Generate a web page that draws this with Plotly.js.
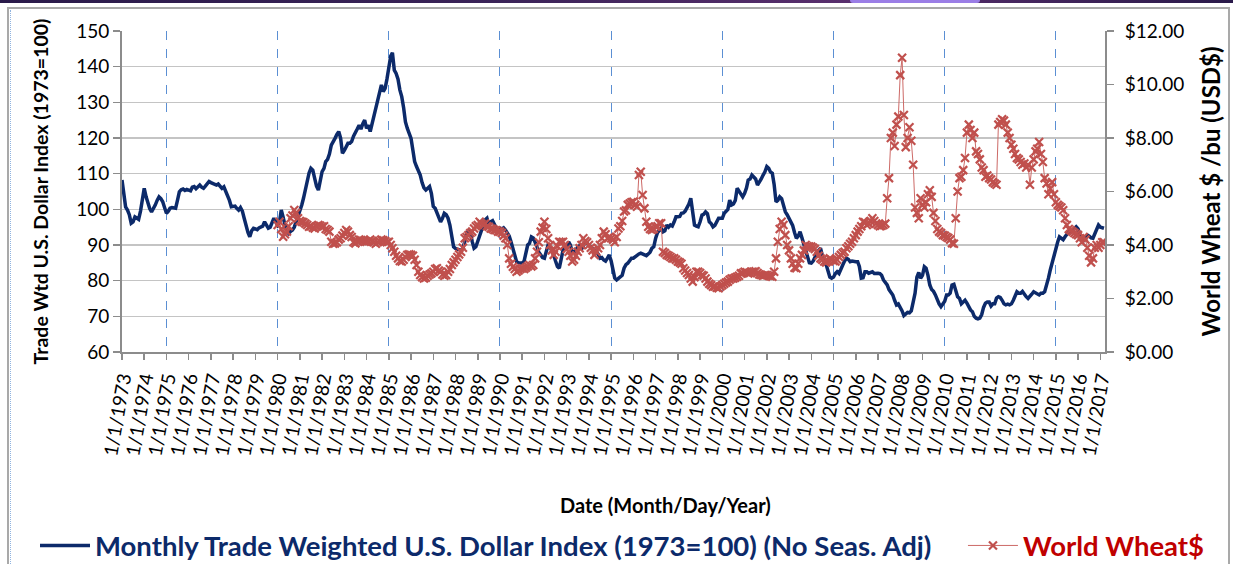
<!DOCTYPE html>
<html>
<head>
<meta charset="utf-8">
<script src="https://cdn.plot.ly/plotly-3.0.1.min.js"></script>
<style>
  html, body { margin:0; padding:0; background:#ffffff; }
  #wrap { position:relative; width:1233px; height:564px; overflow:hidden; }
  #chart { position:absolute; left:0; top:0; width:1233px; height:564px; }
  .band { position:absolute; left:0; top:0; width:1233px; height:3px;
          background:linear-gradient(to right,#2a1a4a,#3a2358 40%,#5a2f6e 70%,#2a1a4a); pointer-events:none; }
  .tab { position:absolute; left:850px; top:0; width:130px; height:3px; background:#9b7ee6;
         border-radius:0 0 6px 6px; pointer-events:none; }
  .frame { position:absolute; left:7px; top:7px; width:1219px; height:600px;
           border:2px solid #a9a9a9; border-bottom:none; pointer-events:none; }
  .dots { position:absolute; left:10px; top:10px; width:0; height:560px;
          border-left:1px dotted #8fb3e0; pointer-events:none; }
</style>
</head>
<body>
<div id="wrap">
  <div id="chart"></div>
  <div class="band"></div>
  <div class="tab"></div>
  <div class="frame"></div>
  <div class="dots"></div>
</div>
<script>
// ---- Data, monthly ----
const dollarStart = 1973;   // first month: Jan 1973
const wheatStart = 1980;    // first month: Jan 1980

const dollarIndex = [
  108.2,103.0,100.7,99.8,98.5,96.1,96.5,97.9,97.5,97.2,99.5,103.5,   // 1973
  105.9,103.5,101.7,100.2,99.3,100.2,101.2,102.5,103.5,103.0,102.1,100.5, // 1974
  98.9,99.5,100.3,100.5,100.3,100.3,102.5,104.9,105.5,105.7,105.3,105.6, // 1975
  105.4,105.2,106.2,106.4,105.8,106.5,106.8,106.2,105.9,106.5,107.2,107.8, // 1976
  107.5,107.2,107.0,106.8,107.1,106.5,105.9,106.3,105.2,104.0,102.5,100.7, // 1977
  100.7,100.9,100.3,99.8,100.5,99.5,97.5,95.1,93.5,92.3,94.0,94.7,   // 1978
  94.5,94.3,94.8,95.1,95.3,96.5,95.6,94.7,95.0,96.4,97.5,96.5,       // 1979
  95.6,96.5,99.8,97.8,95.6,94.5,93.3,93.8,94.2,95.0,96.5,97.9,       // 1980
  99.5,101.2,103.1,105.5,108.5,110.2,111.5,111.0,108.7,106.5,105.4,107.5, // 1981
  110.6,111.5,113.4,114.0,115.5,118.0,119.2,119.9,121.0,121.8,120.0,115.7, // 1982
  116.5,117.5,118.5,118.5,119.0,120.5,121.3,122.5,123.6,122.5,124.0,125.0, // 1983
  122.7,123.6,121.8,124.0,126.0,128.0,130.7,132.5,134.9,133.0,133.9,136.5, // 1984
  140.5,143.0,143.9,139.0,138.1,136.5,133.5,131.6,128.5,124.5,122.7,121.3, // 1985
  119.9,116.5,113.4,112.0,111.0,109.6,107.5,106.0,105.4,105.8,106.4,104.5, // 1986
  100.8,100.3,99.0,97.5,96.5,97.5,98.9,98.5,97.5,95.6,92.5,89.5,     // 1987
  89.0,88.8,88.6,88.5,89.0,91.5,92.8,94.2,93.5,91.0,89.1,89.5,       // 1988
  91.0,92.8,93.5,95.0,97.0,97.5,95.6,96.5,96.8,95.8,94.7,94.5,       // 1989
  94.7,94.5,94.8,94.2,93.5,92.5,90.9,89.0,87.5,85.3,85.0,85.0,       // 1990
  84.9,85.5,88.0,90.0,90.5,92.3,92.0,90.9,89.5,88.0,87.2,86.5,       // 1991
  86.3,88.5,90.0,89.5,88.5,87.2,85.5,84.0,83.5,85.5,88.5,89.5,       // 1992
  89.8,90.9,90.0,88.1,88.0,88.5,89.5,89.8,88.8,89.8,90.9,90.5,       // 1993
  90.0,89.5,89.0,88.5,88.1,87.5,86.3,86.5,85.8,85.5,86.3,87.2,       // 1994
  85.5,83.0,80.7,80.2,80.7,81.0,81.5,83.5,84.5,84.9,85.5,86.3,       // 1995
  86.3,86.8,87.2,87.5,87.7,87.5,87.2,87.0,87.5,88.0,89.1,89.5,       // 1996
  91.9,93.5,94.0,94.7,93.7,94.0,95.6,95.0,95.6,95.3,96.5,97.9,       // 1997
  97.9,98.0,98.9,99.0,99.5,100.3,101.5,103.1,99.0,95.6,95.3,95.1,    // 1998
  96.5,98.4,98.6,99.3,98.8,96.5,96.0,95.1,95.5,96.5,97.5,97.5,       // 1999
  97.5,98.9,99.5,100.0,102.6,101.2,101.5,102.5,105.9,105.0,104.5,103.5, // 2000
  104.5,106.0,108.2,108.5,109.6,109.0,108.5,106.8,107.5,108.5,109.6,110.5, // 2001
  112.0,111.5,110.5,110.1,107.0,102.1,102.5,103.5,103.0,101.0,99.3,98.5, // 2002
  97.5,96.0,95.5,93.5,91.9,92.5,93.7,92.0,90.0,88.1,86.5,85.0,       // 2003
  84.9,85.5,86.5,87.2,88.5,89.1,87.0,84.9,84.5,82.5,81.0,80.7,       // 2004
  81.0,82.0,82.5,82.0,83.5,84.4,85.5,86.3,86.0,85.3,85.5,85.3,       // 2005
  85.3,85.3,84.0,80.7,80.8,82.5,82.5,82.1,82.3,82.5,82.0,82.1,       // 2006
  82.1,82.0,81.5,80.2,79.5,78.8,77.5,76.5,76.0,74.5,73.2,73.5,       // 2007
  72.7,71.5,70.2,70.6,71.1,71.0,71.5,74.0,76.5,81.0,82.3,80.7,       // 2008
  81.5,83.9,83.5,81.5,78.8,77.5,77.0,76.0,74.5,73.5,72.7,73.5,       // 2009
  74.2,76.0,76.0,76.5,78.8,79.0,77.0,75.5,75.0,73.5,74.0,74.5,       // 2010
  73.7,72.5,71.8,71.3,70.0,69.5,69.3,69.5,70.5,72.5,73.7,74.0,       // 2011
  74.0,72.9,73.5,73.5,75.1,75.5,75.3,74.5,73.5,73.2,73.4,73.2,       // 2012
  73.5,74.5,75.5,76.9,76.5,76.5,77.0,76.0,75.5,75.0,75.8,76.2,       // 2013
  76.9,76.5,76.2,76.0,76.5,76.5,76.9,78.5,80.7,83.0,85.0,87.2,       // 2014
  89.5,90.9,92.3,92.0,91.5,92.3,93.0,93.7,93.5,94.2,94.6,95.1,       // 2015
  94.5,93.0,91.9,91.0,92.0,92.8,92.5,92.0,91.9,93.0,94.5,95.6,       // 2016
  95.0,94.7,94.7                                                     // 2017
];

const wheatPrice = [
  4.75,4.87,4.60,4.31,4.40,4.50,4.70,5.00,5.10,5.31,5.20,5.00,   // 1980
  4.90,4.87,4.85,4.80,4.75,4.68,4.70,4.65,4.62,4.70,4.75,4.72,   // 1981
  4.68,4.70,4.60,4.56,4.50,4.12,4.05,4.06,4.10,4.20,4.25,4.35,   // 1982
  4.45,4.56,4.50,4.37,4.30,4.10,4.06,4.15,4.20,4.19,4.15,4.12,   // 1983
  4.12,4.15,4.20,4.15,4.10,4.05,4.10,4.15,4.20,4.18,4.15,4.10,   // 1984
  4.12,4.00,3.88,3.75,3.60,3.50,3.40,3.38,3.45,3.55,3.63,3.65,   // 1985
  3.63,3.60,3.45,3.25,3.00,2.88,2.80,2.75,2.78,2.85,2.90,2.94,   // 1986
  3.00,3.10,3.13,3.05,3.00,2.90,2.85,2.88,3.00,3.10,3.25,3.35,   // 1987
  3.45,3.55,3.65,3.75,3.90,4.25,4.30,4.37,4.45,4.50,4.62,4.70,   // 1988
  4.75,4.87,4.80,4.75,4.80,4.70,4.68,4.62,4.60,4.56,4.55,4.50,   // 1989
  4.50,4.45,4.35,4.25,4.00,3.50,3.30,3.19,3.10,3.00,3.05,3.10,   // 1990
  3.13,3.10,3.15,3.20,3.25,3.20,3.25,3.50,3.75,4.10,4.50,4.65,   // 1991
  4.87,4.60,4.25,4.00,3.80,3.63,3.75,3.95,4.12,4.10,4.12,4.00,   // 1992
  3.85,3.75,3.60,3.38,3.45,3.60,3.75,3.88,4.00,4.25,4.15,4.10,   // 1993
  4.00,3.90,3.80,3.63,3.75,3.88,4.00,4.25,4.50,4.40,4.25,4.30,   // 1994
  4.25,4.20,4.10,4.30,4.62,4.70,4.90,5.25,5.30,5.50,5.55,5.60,   // 1995
  5.62,5.50,5.43,6.62,6.74,5.87,5.37,4.87,4.68,4.60,4.56,4.60,   // 1996
  4.68,4.70,4.81,4.81,3.75,3.70,3.63,3.60,3.55,3.50,3.50,3.45,   // 1997
  3.38,3.35,3.30,3.13,3.05,2.95,2.88,2.75,2.63,2.80,3.00,3.00,   // 1998
  2.95,2.88,2.85,2.75,2.63,2.55,2.50,2.44,2.45,2.40,2.38,2.45,   // 1999
  2.50,2.55,2.60,2.63,2.70,2.75,2.75,2.78,2.81,2.85,2.94,2.95,   // 2000
  3.00,2.98,2.94,2.95,3.00,3.00,3.02,2.95,2.90,2.88,2.85,2.88,   // 2001
  2.88,2.85,2.83,2.81,3.00,3.50,4.12,4.60,4.87,4.75,4.37,4.00,   // 2002
  3.80,3.50,3.30,3.15,3.13,3.30,3.50,3.63,3.80,4.00,3.95,3.94,   // 2003
  3.94,3.90,3.85,3.75,3.60,3.50,3.45,3.38,3.35,3.40,3.50,3.45,   // 2004
  3.40,3.38,3.45,3.55,3.63,3.70,3.75,3.88,3.95,4.05,4.12,4.25,   // 2005
  4.37,4.50,4.60,4.70,4.87,4.85,4.75,4.80,4.90,5.00,4.90,4.80,   // 2006
  4.75,4.70,4.72,4.75,4.80,5.75,6.50,8.00,8.20,7.70,8.50,8.80,   // 2007
  10.35,11.00,8.86,7.66,8.00,8.40,7.90,7.00,5.40,5.20,5.00,5.75, // 2008
  5.50,5.40,5.60,5.90,6.05,5.80,5.20,4.90,4.60,4.50,4.45,4.37,   // 2009
  4.35,4.30,4.26,4.20,4.07,4.05,5.00,6.00,6.50,6.55,6.80,7.25,   // 2010
  8.20,8.50,8.30,8.00,8.20,7.50,7.40,7.20,6.90,6.80,6.55,6.60,   // 2011
  6.50,6.45,6.35,6.30,6.25,8.50,8.60,8.70,8.65,8.50,8.20,8.00,   // 2012
  7.75,7.60,7.40,7.25,7.20,7.10,7.00,7.05,6.90,7.00,6.25,6.90,   // 2013
  7.20,7.50,7.60,7.85,7.40,7.10,6.50,6.30,5.90,6.10,6.35,5.90,   // 2014
  5.60,5.50,5.45,5.40,5.30,5.00,4.75,4.60,4.55,4.50,4.45,4.40,   // 2015
  4.37,4.25,4.10,4.30,4.20,3.90,3.60,3.35,3.50,3.90,4.00,3.90,   // 2016
  4.00,4.10,4.10                                                 // 2017
];

const seriesNames = [
  'Monthly Trade Weighted U.S. Dollar Index (1973=100) (No Seas. Adj)',
  'World Wheat$'
];
const axisTitles = {
  x: 'Date (Month/Day/Year)',
  yLeft: 'Trade Wtd U.S. Dollar Index (1973=100)',
  yRight: 'World Wheat $ /bu (USD$)'
};

function monthDates(startYear, n) {
  const out = [];
  for (let i = 0; i < n; i++) {
    const y = startYear + Math.floor(i / 12);
    const m = (i % 12) + 1;
    out.push(y + '-' + (m < 10 ? '0' + m : m) + '-01');
  }
  return out;
}

const FONT = 'Lato, "Open Sans", "DejaVu Sans", sans-serif';
const NAVY = '#0c2a6a';
const RED = '#c0504d';
const GRID = '#c4c4c4';
const AXIS = '#8c8c8c';
const X_RANGE = ['1973-01-01', '2017-03-18'];

const traces = [
  {
    type: 'scatter', mode: 'lines',
    x: monthDates(dollarStart, dollarIndex.length), y: dollarIndex,
    name: '<span style="color:#0c2a6a">' + seriesNames[0] + '</span>',
    line: { color: NAVY, width: 3.5 },
    xaxis: 'x', yaxis: 'y', legend: 'legend'
  },
  {
    type: 'scatter', mode: 'lines+markers',
    x: monthDates(wheatStart, wheatPrice.length), y: wheatPrice,
    name: '<span style="color:#c00000">' + seriesNames[1] + '</span>',
    line: { color: '#cd6a67', width: 1 },
    marker: { symbol: 'x-thin', size: 8, color: RED, line: { color: RED, width: 2.2 } },
    xaxis: 'x2', yaxis: 'y2', legend: 'legend2'
  }
];

const legendCommon = {
  orientation: 'h', xref: 'paper', yref: 'paper',
  xanchor: 'left', yanchor: 'middle', y: -0.603,
  font: { family: FONT, size: 27.5, weight: 'bold' },
  itemwidth: 50, tracegroupgap: 0, bgcolor: 'rgba(0,0,0,0)'
};

const layout = {
  width: 1233, height: 564,
  margin: { l: 122, r: 128, t: 31, b: 212, autoexpand: false },
  paper_bgcolor: '#ffffff', plot_bgcolor: '#ffffff',
  font: { family: FONT, color: '#000000' },
  showlegend: true,
  legend: Object.assign({}, legendCommon, { x: -0.0885 }),
  legend2: Object.assign({}, legendCommon, { x: 0.8555 }),
  xaxis: {
    type: 'date', range: X_RANGE, automargin: false,
    tick0: '1973-01-01', dtick: 'M12', tickformat: '%-m/%-d/%Y',
    tickangle: -80, tickfont: { family: FONT, size: 19, color: '#000' },
    ticks: 'outside', ticklen: 6, tickwidth: 1.5, tickcolor: AXIS,
    showline: true, linecolor: AXIS, linewidth: 2,
    showgrid: false, zeroline: false, fixedrange: true
  },
  xaxis2: {
    type: 'date', range: X_RANGE, overlaying: 'x', anchor: 'y2', side: 'bottom',
    tick0: '1975-01-01', dtick: 'M60', automargin: false,
    showgrid: true, gridcolor: '#5b8fd3', gridwidth: 1, griddash: 'dash',
    showticklabels: false, ticks: '', showline: false, zeroline: false
  },
  yaxis: {
    range: [60, 150], dtick: 10, tick0: 60, automargin: false,
    tickfont: { family: FONT, size: 19, color: '#000' },
    ticks: 'outside', ticklen: 7, tickwidth: 1.5, tickcolor: AXIS,
    showline: true, linecolor: AXIS, linewidth: 2,
    showgrid: true, gridcolor: GRID, gridwidth: 1.5, zeroline: false,
    title: { text: axisTitles.yLeft, font: { family: FONT, size: 19.5, weight: 'bold', color: '#000' }, standoff: 22 }
  },
  yaxis2: {
    range: [0, 12], dtick: 2, tick0: 0, overlaying: 'y', anchor: 'x2', side: 'right', automargin: false,
    tickprefix: '$', tickformat: '.2f', ticklabelstandoff: 7,
    tickfont: { family: FONT, size: 19, color: '#000' },
    ticks: 'outside', ticklen: 7, tickwidth: 1.5, tickcolor: AXIS,
    showline: true, linecolor: AXIS, linewidth: 2,
    showgrid: false, zeroline: false,
    title: { text: axisTitles.yRight, font: { family: FONT, size: 24, weight: 'bold', color: '#000' }, standoff: 20 }
  },
  annotations: [
    {
      text: axisTitles.x, xref: 'paper', yref: 'paper', x: 0.553, y: -0.477,
      xanchor: 'center', yanchor: 'middle', showarrow: false,
      font: { family: FONT, size: 20, weight: 'bold', color: '#000' }
    }
  ]
};

Plotly.newPlot('chart', traces, layout, { displayModeBar: false, staticPlot: true });
</script>
</body>
</html>
